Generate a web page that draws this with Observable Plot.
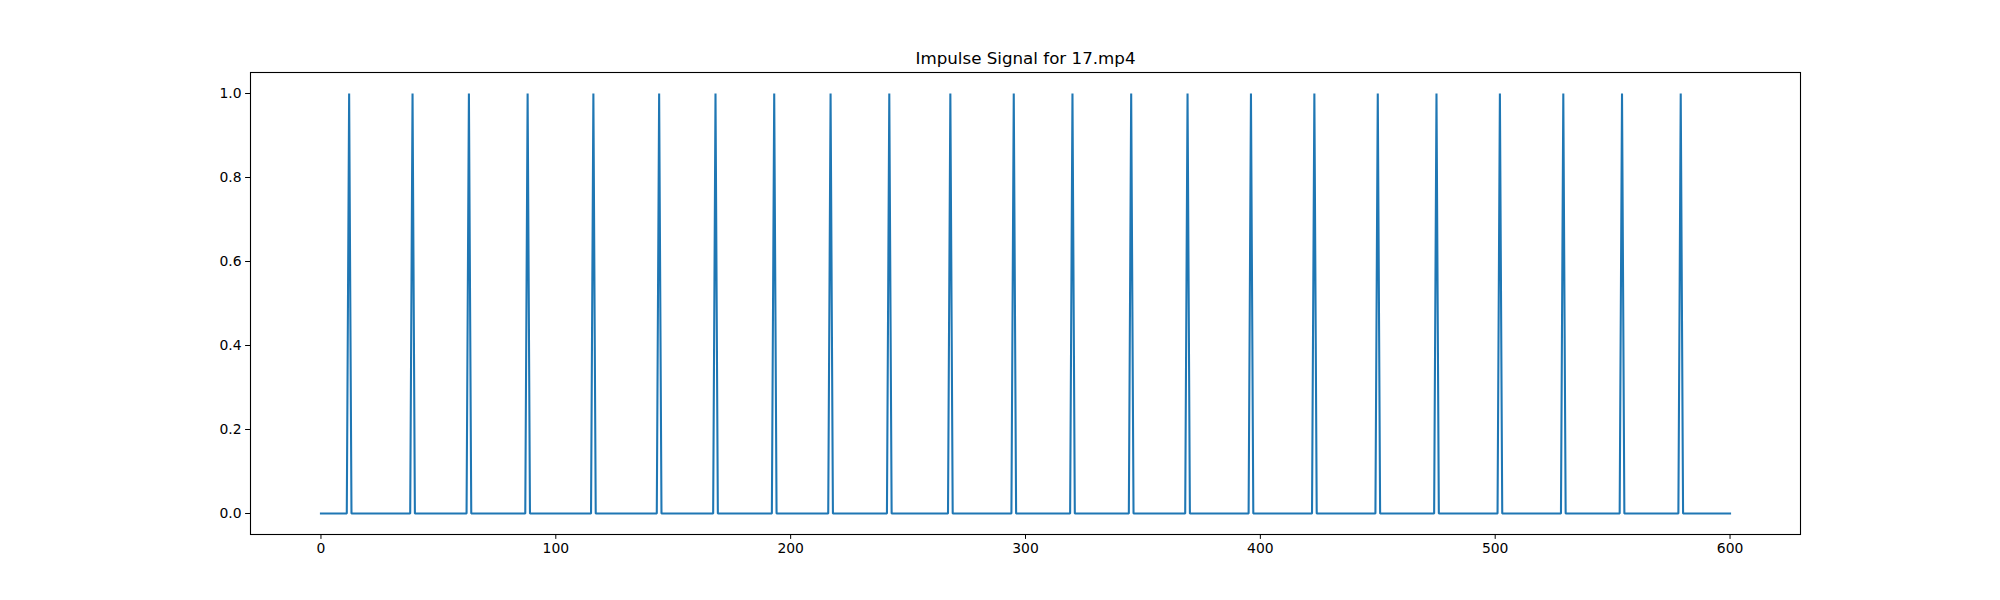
<!DOCTYPE html>
<html>
<head>
<meta charset="utf-8">
<script src="https://cdn.jsdelivr.net/npm/d3@7"></script>
<script src="https://cdn.jsdelivr.net/npm/@observablehq/plot@0.6"></script>
<style>
  html, body { margin: 0; padding: 0; background: #fff; }
  #chart svg { display: block; }
</style>
</head>
<body>
<div id="chart"></div>
<script>
// Data
const title = "Impulse Signal for 17.mp4";
const nFrames = 601; // frame indices 0..600
const peakFrames = [12, 39, 63, 88, 116, 144, 168, 193, 217, 242, 268, 295, 320, 345, 369, 396, 423, 450, 475, 502, 529, 554, 579];
const xTicks = [0, 100, 200, 300, 400, 500, 600];
const yTicks = [0.0, 0.2, 0.4, 0.6, 0.8, 1.0];

const peakSet = new Set(peakFrames);
const signal = d3.range(nFrames).map(i => ({frame: i, value: peakSet.has(i) ? 1 : 0}));

const chart = Plot.plot({
  width: 2000,
  height: 600,
  marginLeft: 250,
  marginRight: 200,
  marginTop: 72,
  marginBottom: 66,
  style: {fontFamily: "DejaVu Sans, sans-serif", fontSize: "13.9px", color: "black", background: "white"},
  x: {domain: [-30, 630], ticks: xTicks, tickFormat: d => String(d), label: null, tickSize: 4.9, tickPadding: 4},
  y: {domain: [-0.05, 1.05], ticks: yTicks, tickFormat: d3.format(".1f"), label: null, tickSize: 4.9, tickPadding: 4},
  marks: [
    Plot.line(signal, {x: "frame", y: "value", stroke: "#1f77b4", strokeWidth: 2.08, strokeLinejoin: "miter", strokeLinecap: "square"}),
    Plot.frame({stroke: "black", strokeWidth: 1.1}),
    Plot.text([title], {frameAnchor: "top", dy: -8.3, lineAnchor: "bottom", fontSize: 16.7, fill: "black"})
  ]
});
document.getElementById("chart").appendChild(chart);
</script>
</body>
</html>
